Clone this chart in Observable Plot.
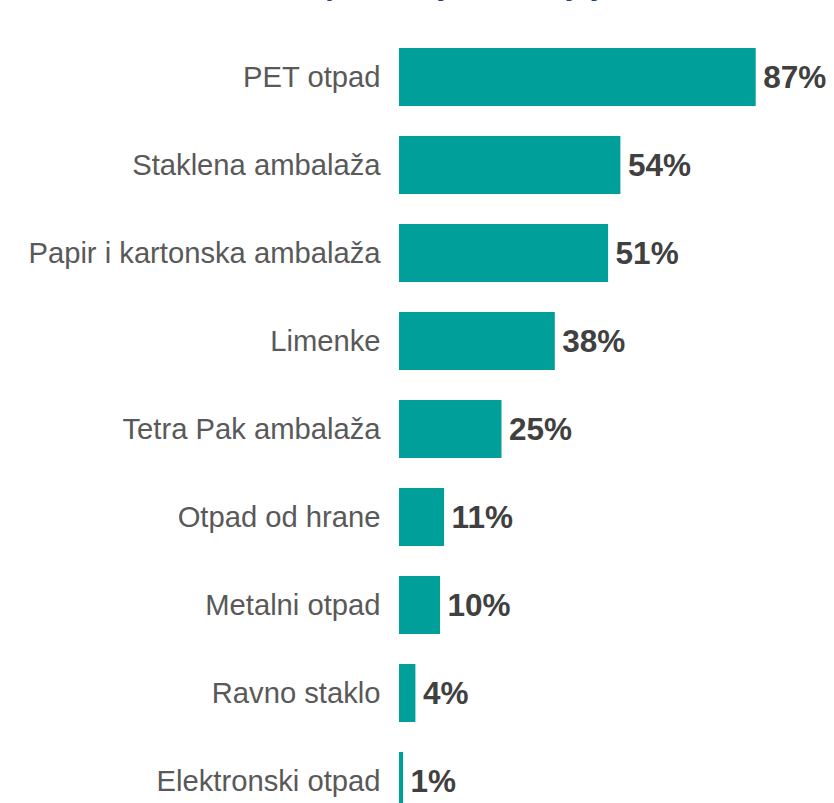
<!DOCTYPE html>
<html>
<head>
<meta charset="utf-8">
<script src="https://cdn.jsdelivr.net/npm/d3@7"></script>
<script src="https://cdn.jsdelivr.net/npm/@observablehq/plot@0.6"></script>
<style>
  html, body { margin: 0; padding: 0; background: #fff; overflow: hidden; }
  #wrap { position: relative; width: 834px; height: 803px; overflow: hidden; }
  #title { position: absolute; left: 0; width: 834px; top: -30px; text-align: center;
    font-family: "Liberation Sans", Arial, sans-serif; font-weight: bold; font-size: 30px;
    line-height: 30px; color: #283C96; margin: 0; white-space: nowrap; }
  #chart { position: absolute; left: 0; top: 0; }
</style>
</head>
<body>
<div id="wrap">
  <h2 id="title">Vrste otpada koje razdvajaju</h2>
  <div id="chart"></div>
</div>
<script>
const categories = ["PET otpad", "Staklena ambalaža", "Papir i kartonska ambalaža", "Limenke",
  "Tetra Pak ambalaža", "Otpad od hrane", "Metalni otpad", "Ravno staklo", "Elektronski otpad"];
const values = [87, 54, 51, 38, 25, 11, 10, 4, 1];
const valueLabels = ["87%", "54%", "51%", "38%", "25%", "11%", "10%", "4%", "1%"];

const data = categories.map((c, i) => ({category: c, value: values[i], label: valueLabels[i]}));

const chart = Plot.plot({
  width: 834,
  height: 803,
  marginLeft: 399,
  marginRight: 0,
  marginTop: 0,
  marginBottom: 0,
  style: {fontFamily: "'Liberation Sans', Arial, sans-serif", background: "transparent", overflow: "visible"},
  x: {domain: [0, 100], range: [399, 399 + 410], axis: null},
  y: {domain: categories, range: [48, 810], paddingInner: 0.341, paddingOuter: 0, label: null},
  marks: [
    Plot.barX(data, {x: "value", y: "category", fill: "#009F9A"}),
    Plot.text(data, {x: "value", y: "category", text: "label", textAnchor: "start", dx: 7,
      fontSize: 31.5, fontWeight: "bold", fill: "#404040"}),
    Plot.axisY({tickSize: 0, tickPadding: 19, fontSize: 29.2, color: "#595959", label: null})
  ]
});
document.getElementById("chart").appendChild(chart);
</script>
</body>
</html>
